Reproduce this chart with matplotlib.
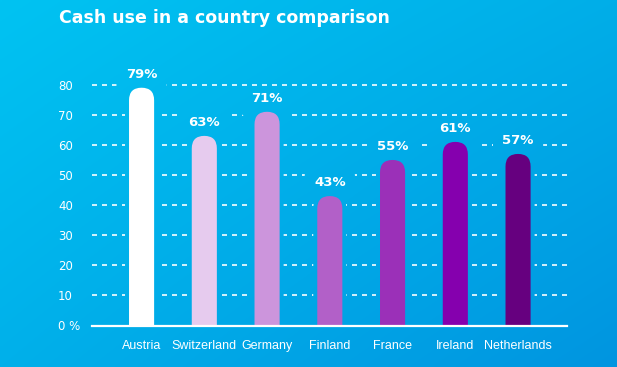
import numpy as np
import matplotlib
matplotlib.use('Agg')
import matplotlib.pyplot as plt
from matplotlib.patches import FancyBboxPatch

plt.rcParams['lines.scale_dashes'] = False

countries = ['Austria', 'Switzerland', 'Germany', 'Finland', 'France', 'Ireland', 'Netherlands']
cash_share = [79, 63, 71, 43, 55, 61, 57]
bar_colors = ['#ffffff', '#e6cbee', '#cc95dc', '#b260c8', '#9b30b8', '#8500ae', '#66007f']
y_ticks = [0, 10, 20, 30, 40, 50, 60, 70, 80]
y_tick_labels = ['0 %', '10', '20', '30', '40', '50', '60', '70', '80']
title = 'Cash use in a country comparison'

W, H = 617, 367
fig = plt.figure(figsize=(W / 100, H / 100), dpi=100)

# background gradient (light cyan top-left -> deeper blue bottom-right)
tl = np.array([0, 195, 242]) / 255
tr = np.array([0, 174, 232]) / 255
bl = np.array([0, 176, 234]) / 255
br = np.array([0, 149, 224]) / 255
u = np.linspace(0, 1, 200)[None, :, None]
v = np.linspace(0, 1, 120)[:, None, None]
grad = (tl * (1 - u) * (1 - v) + tr * u * (1 - v) + bl * (1 - u) * v + br * u * v)

bg = fig.add_axes([0, 0, 1, 1])
bg.imshow(grad, extent=[0, 1, 0, 1], aspect='auto', origin='upper', interpolation='bilinear')
bg.set_xlim(0, 1)
bg.set_ylim(0, 1)
bg.axis('off')

ax_l, ax_r, ax_b, ax_t = 92, 567, 325.5, 54.6
ax = fig.add_axes([ax_l / W, 1 - ax_b / H, (ax_r - ax_l) / W, (ax_b - ax_t) / H])
ax.set_facecolor('none')
xlim = (-0.79, 6.78)
ylim = (0, 90)
px_x = (ax_r - ax_l) / (xlim[1] - xlim[0])
px_y = (ax_b - ax_t) / (ylim[1] - ylim[0])
aspect = px_x / px_y

x = np.arange(len(countries))
bw = 0.4

# dashed grid
for t in y_ticks[1:]:
    ax.axhline(t, color='white', lw=1.3, dashes=(3.6, 3.6), alpha=0.9, zorder=1)

# knock the grid out around bars and labels by redrawing the background there
def knockout(patch):
    im = ax.imshow(grad, extent=[0, 1, 0, 1], transform=fig.transFigure, aspect='auto',
                   origin='upper', interpolation='bilinear', zorder=1.5)
    im.set_clip_path(patch)

d = 4 / px_x
for xi, val in zip(x, cash_share):
    knockout(FancyBboxPatch((xi - bw / 2 - d, -20), bw + 2 * d, val + 20 + d * aspect,
                            boxstyle=f'round,pad=0,rounding_size={bw / 2 + d}',
                            mutation_aspect=aspect, transform=ax.transData))
    knockout(FancyBboxPatch((xi - 0.4, val - 1.5), 0.8, 9.5,
                            boxstyle='round,pad=0,rounding_size=0.05',
                            mutation_aspect=aspect, transform=ax.transData))

# bars with rounded tops
for xi, val, c in zip(x, cash_share, bar_colors):
    ax.add_patch(FancyBboxPatch((xi - bw / 2, -20), bw, val + 20,
                                boxstyle=f'round,pad=0,rounding_size={bw / 2}',
                                mutation_aspect=aspect, fc=c, ec='none', zorder=2))
    ax.annotate(f'{val}%', (xi, val), xytext=(0, 9.5), textcoords='offset points',
                ha='center', va='center', color='white', fontsize=9.5,
                fontweight='bold', zorder=3)

ax.axhline(0, color='white', lw=1.6, zorder=3, clip_on=False)

ax.set_xlim(*xlim)
ax.set_ylim(*ylim)
for s in ax.spines.values():
    s.set_visible(False)

ax.set_yticks(y_ticks, y_tick_labels)
ax.tick_params(axis='y', length=0, pad=24.5, colors='white', labelsize=8.5)
for lab in ax.get_yticklabels():
    lab.set_ha('left')

ax.set_xticks(x, countries)
ax.tick_params(axis='x', length=0, pad=10.5, colors='white')
for lab in ax.get_xticklabels():
    lab.set_fontfamily(['Liberation Sans', 'DejaVu Sans'])
    lab.set_fontsize(9)

fig.text(59 / W, 1 - 18 / H, title, ha='left', va='center', color='white',
         fontsize=12.5, fontweight='bold')

fig.savefig('out.png', dpi=100)
